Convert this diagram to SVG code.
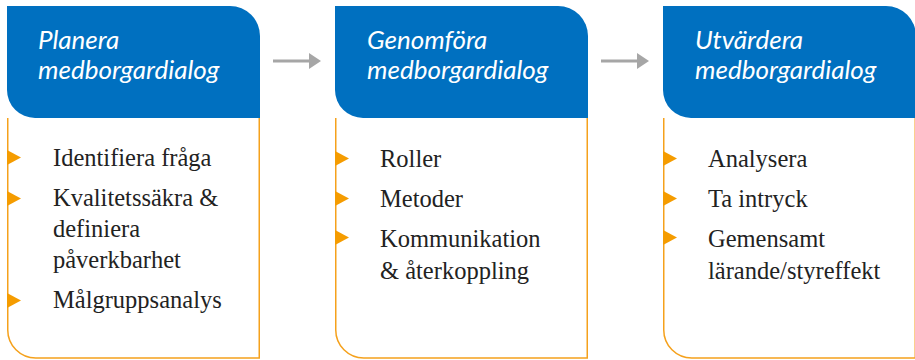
<svg xmlns="http://www.w3.org/2000/svg" width="915" height="360" viewBox="0 0 915 360">
  <defs>
    <style>
      .head { fill: #0070C0; }
      .body { fill: #FFFFFF; stroke: #F5A11C; stroke-width: 1.5; }
      .bullet { fill: #F59C00; }
      .title { font-family: Lato, "Open Sans", "DejaVu Sans", sans-serif; font-style: italic; font-size: 26px; fill: #FFFFFF; }
      .item { font-family: "Liberation Serif", "DejaVu Serif", serif; font-size: 24.5px; fill: #222222; }
      .link { stroke: #A6A6A6; stroke-width: 3; fill: none; }
      .tip { fill: #A6A6A6; }
    </style>
  </defs>
  <rect width="915" height="360" fill="#FFFFFF"/>

  <!-- step 1 -->
  <g id="planera">
    <path class="body" d="M7.75,118 V330 A28,28 0 0 0 35.75,358 H259.25 V118"/>
    <path class="head" d="M7,6 H230 A30,30 0 0 1 260,36 V118 H35 A28,28 0 0 1 7,90 Z"/>
    <text class="title" x="38" y="49">Planera</text>
    <text class="title" x="38" y="79">medborgardialog</text>
    <path class="bullet" d="M7,150 L21,157.5 L7,165 Z"/>
    <path class="bullet" d="M7,191 L21,198.5 L7,206 Z"/>
    <path class="bullet" d="M7,293 L21,300.5 L7,308 Z"/>
    <text class="item" x="53" y="166">Identifiera fråga</text>
    <text class="item" x="53" y="206">Kvalitetssäkra &amp;</text>
    <text class="item" x="53" y="237">definiera</text>
    <text class="item" x="53" y="268">påverkbarhet</text>
    <text class="item" x="53" y="308">Målgruppsanalys</text>
  </g>

  <!-- step 2 -->
  <g id="genomfora">
    <path class="body" d="M335.75,118 V330 A28,28 0 0 0 363.75,358 H587.25 V118"/>
    <path class="head" d="M335,6 H558 A30,30 0 0 1 588,36 V118 H363 A28,28 0 0 1 335,90 Z"/>
    <text class="title" x="367" y="49">Genomföra</text>
    <text class="title" x="367" y="79">medborgardialog</text>
    <path class="bullet" d="M335,151 L349,158.5 L335,166 Z"/>
    <path class="bullet" d="M335,191 L349,198.5 L335,206 Z"/>
    <path class="bullet" d="M335,230 L349,237.5 L335,245 Z"/>
    <text class="item" x="380" y="167">Roller</text>
    <text class="item" x="380" y="207">Metoder</text>
    <text class="item" x="380" y="247">Kommunikation</text>
    <text class="item" x="380" y="279">&amp; återkoppling</text>
  </g>

  <!-- step 3 -->
  <g id="utvardera">
    <path class="body" d="M663.75,118 V330 A28,28 0 0 0 691.75,358 H915.25 V118"/>
    <path class="head" d="M663,6 H886 A30,30 0 0 1 916,36 V118 H691 A28,28 0 0 1 663,90 Z"/>
    <text class="title" x="695" y="49">Utvärdera</text>
    <text class="title" x="695" y="79">medborgardialog</text>
    <path class="bullet" d="M663,151 L677,158.5 L663,166 Z"/>
    <path class="bullet" d="M663,191 L677,198.5 L663,206 Z"/>
    <path class="bullet" d="M663,230 L677,237.5 L663,245 Z"/>
    <text class="item" x="708" y="167">Analysera</text>
    <text class="item" x="708" y="207">Ta intryck</text>
    <text class="item" x="708" y="247">Gemensamt</text>
    <text class="item" x="708" y="279">lärande/styreffekt</text>
  </g>

  <!-- flow arrows between the steps -->
  <g id="connectors">
    <line class="link" x1="273" y1="61" x2="311" y2="61"/>
    <path class="tip" d="M309,53 L321,61 L309,69 Z"/>
    <line class="link" x1="601" y1="61" x2="639" y2="61"/>
    <path class="tip" d="M637,53 L649,61 L637,69 Z"/>
  </g>
</svg>
